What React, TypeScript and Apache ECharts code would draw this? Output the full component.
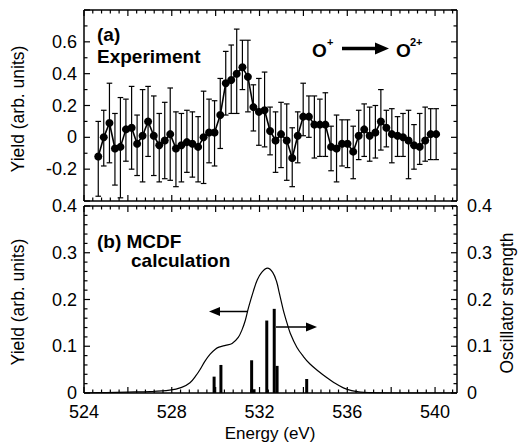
import React, { useEffect, useRef } from 'react';
import * as echarts from 'echarts';

// ---- Panel (a): experiment ----
const energies = [
  524.65, 524.90, 525.16, 525.41, 525.66, 525.91, 526.17, 526.42, 526.67, 526.92,
  527.18, 527.43, 527.68, 527.93, 528.19, 528.44, 528.69, 528.94, 529.20, 529.45,
  529.70, 529.95, 530.21, 530.46, 530.71, 530.96, 531.22, 531.47, 531.72, 531.97,
  532.23, 532.48, 532.73, 532.98, 533.24, 533.49, 533.74, 533.99, 534.25, 534.50,
  534.75, 535.00, 535.26, 535.51, 535.76, 536.01, 536.27, 536.52, 536.77, 537.02,
  537.28, 537.53, 537.78, 538.03, 538.29, 538.54, 538.79, 539.04, 539.30, 539.55,
  539.80, 540.05,
];
const yields = [
  -0.12, 0.00, 0.09, -0.07, -0.06, 0.05, 0.06, -0.04, 0.01, 0.10,
  0.01, -0.05, -0.02, 0.02, -0.07, -0.05, -0.03, -0.04, -0.06, 0.00,
  0.03, 0.03, 0.14, 0.34, 0.36, 0.40, 0.44, 0.38, 0.19, 0.16,
  0.17, 0.04, -0.02, 0.02, -0.02, -0.13, 0.01, 0.13, 0.13, 0.08,
  0.08, 0.08, -0.06, -0.07, -0.04, -0.04, -0.09, 0.01, 0.05, 0.01,
  0.03, 0.10, 0.06, 0.02, 0.01, 0.00, -0.02, -0.05, -0.06, -0.02,
  0.02, 0.02,
];
const errHigh = [
  0.10, 0.17, 0.34, 0.15, 0.25, 0.24, 0.32, 0.14, 0.30, 0.32,
  0.26, 0.15, 0.22, 0.31, 0.16, 0.15, 0.17, 0.16, 0.13, 0.29,
  0.24, 0.23, 0.37, 0.54, 0.58, 0.68, 0.61, 0.61, 0.33, 0.37,
  0.41, 0.19, 0.16, 0.22, 0.21, 0.06, 0.16, 0.34, 0.26, 0.26,
  0.24, 0.28, 0.07, 0.14, 0.11, 0.11, 0.07, 0.17, 0.21, 0.19,
  0.20, 0.30, 0.17, 0.18, 0.13, 0.15, 0.17, 0.08, 0.15, 0.19,
  0.18, 0.18,
];
const errLow = [
  -0.37, -0.18, -0.16, -0.30, -0.38, -0.15, -0.20, -0.24, -0.28, -0.12,
  -0.24, -0.28, -0.26, -0.27, -0.31, -0.28, -0.22, -0.25, -0.28, -0.29,
  -0.16, -0.18, -0.07, 0.14, 0.15, 0.15, 0.30, 0.16, 0.04, -0.05,
  -0.06, -0.11, -0.22, -0.19, -0.27, -0.31, -0.16, 0.01, 0.00, -0.13,
  -0.12, -0.12, -0.21, -0.28, -0.18, -0.19, -0.26, -0.14, -0.12, -0.15,
  -0.13, -0.08, -0.06, -0.16, -0.12, -0.12, -0.26, -0.20, -0.17, -0.15,
  -0.14, -0.14,
];

// ---- Panel (b): MCDF calculation ----
const calcE = [
  524.0, 525.0, 526.0, 527.0, 527.9, 528.45, 528.83, 529.1, 529.3, 529.5,
  529.75, 530.0, 530.15, 530.45, 530.75, 531.03, 531.2, 531.35, 531.5, 531.72,
  531.9, 532.1, 532.36, 532.6, 532.78, 532.9, 533.08, 533.25, 533.4, 533.7,
  534.0, 534.3, 534.7, 535.06, 535.4, 535.82, 536.2, 536.6, 537.0, 538.0,
  541.0,
];
const calcYield = [
  0.0, 0.001, 0.002, 0.003, 0.006, 0.012, 0.022, 0.037, 0.051, 0.067,
  0.083, 0.094, 0.098, 0.102, 0.106, 0.119, 0.135, 0.155, 0.183, 0.218,
  0.242, 0.258, 0.267, 0.258, 0.238, 0.214, 0.178, 0.150, 0.128, 0.098,
  0.078, 0.062, 0.046, 0.033, 0.022, 0.011, 0.005, 0.002, 0.001, 0.0,
  0.0,
];
const stickE = [529.93, 530.24, 531.64, 531.75, 532.33, 532.67, 532.8, 534.15];
const stickF = [0.035, 0.06, 0.07, 0.008, 0.155, 0.18, 0.058, 0.03];

// ---- Axis ticks / labels ----
const xLabelValues = [524, 528, 532, 536, 540];
const xMajorTicks = [524, 526, 528, 530, 532, 534, 536, 538, 540];
const yTopMajorTicks = [-0.4, -0.2, 0, 0.2, 0.4, 0.6, 0.8];
const yTopMinorTicks = [-0.3, -0.1, 0.1, 0.3, 0.5, 0.7];
const yBotMajorTicks = [0, 0.1, 0.2, 0.3, 0.4];

const FONT = 'Liberation Sans, Arial, Helvetica, sans-serif';

export default function App() {
  const ref = useRef<HTMLDivElement>(null);

  useEffect(() => {
    if (!ref.current) return;
    const chart = echarts.init(ref.current, null, { renderer: 'svg' });

    const xMinorTicks: number[] = [];
    for (let k = 0; k <= 42; k++) if (k % 5 !== 0) xMinorTicks.push(524 + k * 0.4);
    const yBotMinorTicks: number[] = [];
    for (let k = 0; k <= 20; k++) if (k % 5 !== 0) yBotMinorTicks.push(k * 0.02);

    const labelStyle = { color: '#000', fontSize: 18, fontFamily: FONT };

    const xAx = (gridIndex: number, showLabel: boolean) => ({
      type: 'value',
      gridIndex,
      min: 524,
      max: 541,
      interval: 2,
      axisLine: { show: false, onZero: false },
      axisTick: { show: false },
      splitLine: { show: false },
      axisLabel: {
        show: showLabel,
        ...labelStyle,
        margin: 10,
        formatter: (v: number) =>
          xLabelValues.indexOf(Math.round(v)) >= 0 && Math.abs(v - Math.round(v)) < 1e-6 ? String(Math.round(v)) : '',
      },
    });

    const yAx = (gridIndex: number, position: 'left' | 'right', min: number, max: number, interval: number,
      margin: number, hideEnds: boolean) => ({
      type: 'value',
      gridIndex,
      position,
      min,
      max,
      interval,
      axisLine: { show: false, onZero: false },
      axisTick: { show: false },
      splitLine: { show: false },
      axisLabel: {
        show: true,
        ...labelStyle,
        margin,
        formatter: (v: number) => {
          const r = Math.round(v * 10) / 10;
          if (hideEnds && (Math.abs(r - max) < 1e-6 || Math.abs(r - min) < 1e-6)) return '';
          return String(r);
        },
      },
    });

    const errorData = energies.map((e, i) => [e, errLow[i], errHigh[i]]);
    const expData = energies.map((e, i) => [e, yields[i]]);
    const calcData = calcE.map((e, i) => [e, calcYield[i]]);
    const stickData = stickE.map((e, i) => [e, stickF[i]]);

    const text = (
      x: number, y: number, str: string, size: number, bold: boolean,
      align: string = 'left', rotation = 0,
    ) => ({
      type: 'text',
      x,
      y,
      rotation,
      style: {
        text: str,
        fill: '#000',
        font: `${bold ? 'bold ' : ''}${size}px ${FONT}`,
        textAlign: align,
        textVerticalAlign: 'middle',
      },
    });

    const option: any = {
      animation: false,
      backgroundColor: '#fff',
      grid: [
        { left: 84, top: 10, width: 373, height: 191 },
        { left: 84, top: 206, width: 373, height: 187 },
      ],
      xAxis: [xAx(0, false), xAx(1, true)],
      yAxis: [
        yAx(0, 'left', -0.4, 0.8, 0.2, 7, true),
        yAx(1, 'left', 0, 0.4, 0.1, 7, false),
        yAx(1, 'right', 0, 0.4, 0.1, 10, false),
      ],
      series: [
        {
          type: 'custom',
          xAxisIndex: 0,
          yAxisIndex: 0,
          data: errorData,
          encode: { x: 0, y: [1, 2] },
          z: 2,
          renderItem: (params: any, api: any) => {
            const x = api.value(0);
            const lo = api.coord([x, api.value(1)]);
            const hi = api.coord([x, api.value(2)]);
            const hw = 2.8;
            const st = { stroke: '#000', lineWidth: 1.2 };
            return {
              type: 'group',
              children: [
                { type: 'line', shape: { x1: lo[0], y1: lo[1], x2: hi[0], y2: hi[1] }, style: st },
                { type: 'line', shape: { x1: lo[0] - hw, y1: lo[1], x2: lo[0] + hw, y2: lo[1] }, style: st },
                { type: 'line', shape: { x1: hi[0] - hw, y1: hi[1], x2: hi[0] + hw, y2: hi[1] }, style: st },
              ],
            };
          },
        },
        {
          type: 'line',
          xAxisIndex: 0,
          yAxisIndex: 0,
          data: expData,
          symbol: 'circle',
          symbolSize: 8,
          z: 3,
          lineStyle: { color: '#000', width: 1.6 },
          itemStyle: { color: '#000' },
        },
        {
          type: 'line',
          xAxisIndex: 1,
          yAxisIndex: 1,
          data: calcData,
          smooth: 0.35,
          symbol: 'none',
          lineStyle: { color: '#000', width: 1.2 },
        },
        {
          type: 'custom',
          xAxisIndex: 1,
          yAxisIndex: 2,
          data: stickData,
          encode: { x: 0, y: 1 },
          renderItem: (params: any, api: any) => {
            const x = api.value(0);
            const p0 = api.coord([x, 0]);
            const p1 = api.coord([x, api.value(1)]);
            return {
              type: 'rect',
              shape: { x: p0[0] - 1.5, y: p1[1], width: 3, height: p0[1] - p1[1] },
              style: { fill: '#000' },
            };
          },
        },
      ],
    };

    chart.setOption(option);

    // Frame and inward ticks, positioned through the axes (convertToPixel)
    const frame: any[] = [];
    const seg = (a: number[], b: number[], w: number) => {
      frame.push({
        type: 'line',
        z: 100,
        silent: true,
        shape: { x1: a[0], y1: a[1], x2: b[0], y2: b[1] },
        style: { stroke: '#000', lineWidth: w },
      });
    };
    const addFrame = (gi: number, x0: number, x1: number, y0: number, y1: number, yMaj: number[], yMin: number[]) => {
      const P = (x: number, y: number) => chart.convertToPixel({ gridIndex: gi } as any, [x, y]) as number[];
      const bl = P(x0, y0), br = P(x1, y0), tl = P(x0, y1), tr = P(x1, y1);
      seg(bl, br, 1.5);
      seg(tl, tr, 1.5);
      seg(bl, tl, 1.5);
      seg(br, tr, 1.5);
      const tickX = (v: number, len: number) => {
        const b = P(v, y0);
        const t = P(v, y1);
        seg(b, [b[0], b[1] - len], 1.2);
        seg(t, [t[0], t[1] + len], 1.2);
      };
      const tickY = (v: number, len: number) => {
        const l = P(x0, v);
        const r = P(x1, v);
        seg(l, [l[0] + len, l[1]], 1.2);
        seg(r, [r[0] - len, r[1]], 1.2);
      };
      xMajorTicks.forEach((v) => tickX(v, 6));
      xMinorTicks.forEach((v) => tickX(v, 3.5));
      yMaj.forEach((v) => tickY(v, 6));
      yMin.forEach((v) => tickY(v, 3.5));
    };
    addFrame(0, 524, 541, -0.4, 0.8, yTopMajorTicks, yTopMinorTicks);
    addFrame(1, 524, 541, 0, 0.4, yBotMajorTicks, yBotMinorTicks);

    const labels: any[] = [
      text(18, 109, 'Yield (arb. units)', 17.5, false, 'center', Math.PI / 2),
      text(18, 302, 'Yield (arb. units)', 17.5, false, 'center', Math.PI / 2),
      text(507, 303, 'Oscillator strength', 17.5, false, 'center', Math.PI / 2),
      text(270, 433, 'Energy (eV)', 17, false, 'center'),
      text(97, 34, '(a)', 19, true),
      text(97, 56, 'Experiment', 19, true),
      text(97, 241, '(b) MCDF', 19, true),
      text(131, 260, 'calculation', 19, true),
      text(312, 50, 'O', 19, true),
      text(327, 42, '+', 11, true),
      { type: 'line', shape: { x1: 342, y1: 48.5, x2: 377, y2: 48.5 }, style: { stroke: '#000', lineWidth: 3.5 } },
      { type: 'polygon', shape: { points: [[375, 42.5], [389, 48.5], [375, 54.5]] }, style: { fill: '#000' } },
      text(396, 50, 'O', 19, true),
      text(410, 42, '2+', 11, true),
      { type: 'line', shape: { x1: 248, y1: 311.5, x2: 216, y2: 311.5 }, style: { stroke: '#000', lineWidth: 1.5 } },
      { type: 'polygon', shape: { points: [[220, 307], [209, 311.5], [220, 316]] }, style: { fill: '#000' } },
      { type: 'line', shape: { x1: 276, y1: 327, x2: 310, y2: 327 }, style: { stroke: '#000', lineWidth: 1.5 } },
      { type: 'polygon', shape: { points: [[306, 322.5], [317, 327], [306, 331.5]] }, style: { fill: '#000' } },
    ];

    chart.setOption({ graphic: [...labels, ...frame] });
    return () => chart.dispose();
  }, []);

  return (
    <div
      ref={ref}
      style={{ position: 'fixed', left: 0, top: 0, width: 521, height: 446, background: '#fff' }}
    />
  );
}
